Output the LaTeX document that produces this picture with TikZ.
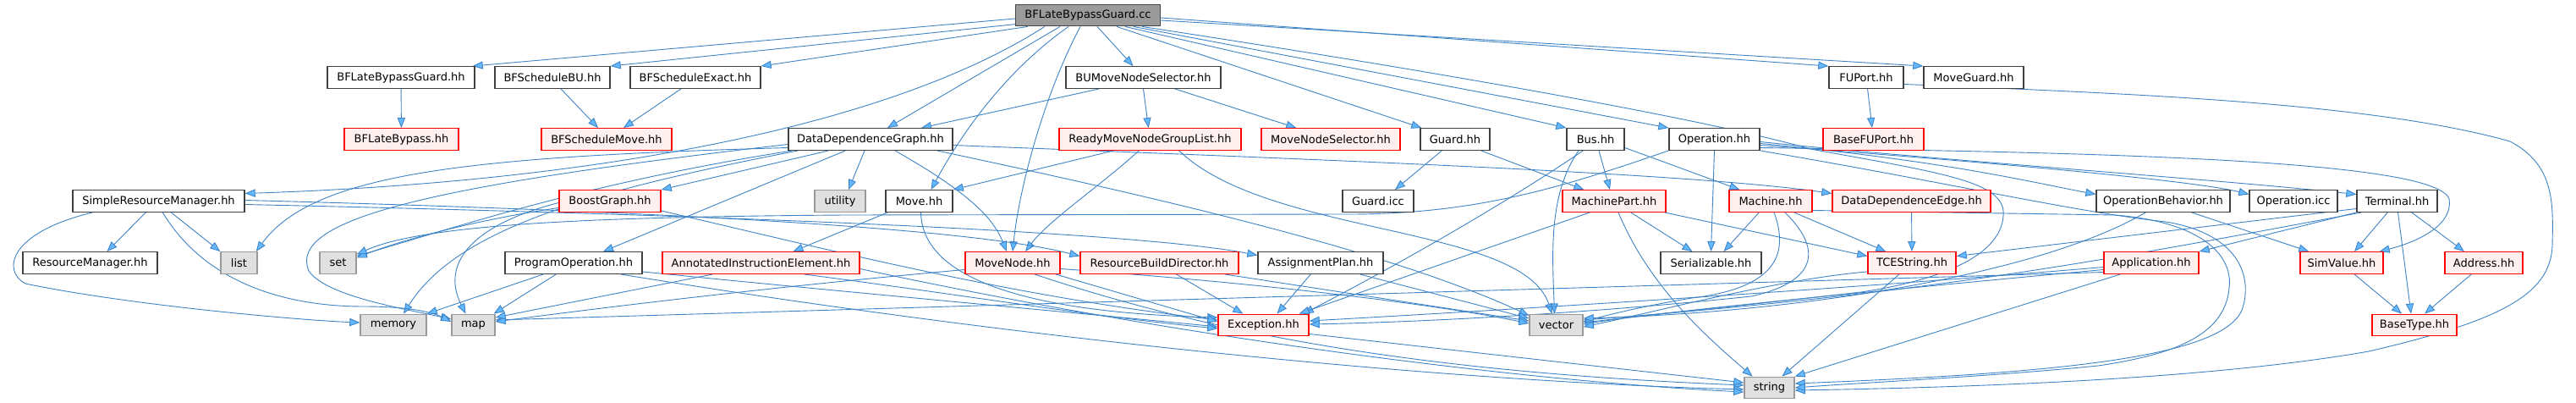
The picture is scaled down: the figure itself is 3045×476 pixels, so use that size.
\documentclass[tikz,border=0pt]{standalone}
\usepackage{fontspec}
\setmainfont{DejaVu Sans}
\usetikzlibrary{arrows.meta,calc}
\pgfdeclarelayer{edgelayer}
\pgfsetlayers{edgelayer,main}
\definecolor{edgec}{RGB}{62,132,198}
\definecolor{arrowc}{RGB}{99,184,255}
\definecolor{boxb}{RGB}{64,64,64}
\definecolor{redf}{RGB}{255,240,240}
\definecolor{grayf}{RGB}{224,224,224}
\definecolor{grayb}{RGB}{153,153,153}
\definecolor{mainf}{RGB}{155,155,155}
\definecolor{mainb}{RGB}{70,70,70}
\tikzset{
 box/.style={draw=boxb, fill=white, line width=0.7pt, minimum height=12.75pt, inner sep=0pt, font=\fontsize{6.5}{8}\selectfont},
 rbox/.style={box, draw=red, fill=redf},
 gbox/.style={box, draw=grayb, fill=grayf},
 mbox/.style={box, draw=mainb, fill=mainf},
 e/.style={draw=edgec, line width=0.45pt, -{Triangle[length=6pt,width=4.6pt,fill=arrowc]}},
}
\begin{document}
\begin{tikzpicture}[x=0.5pt,y=-0.5pt]
\useasboundingbox (0,0) rectangle (3045,476);
% row 0
\node[mbox, minimum width=85.5pt] (cc) at (1286,18) {BFLateBypassGuard.cc};
% row 1
\node[box, minimum width=87pt] (bflgh) at (474,91.5) {BFLateBypassGuard.hh};
\node[box, minimum width=68pt] (bfsbu) at (653,91.5) {BFScheduleBU.hh};
\node[box, minimum width=77pt] (bfsex) at (822,91.5) {BFScheduleExact.hh};
\node[box, minimum width=91.5pt] (bumns) at (1351.5,91.5) {BUMoveNodeSelector.hh};
\node[box, minimum width=44pt] (fuport) at (2206,91.5) {FUPort.hh};
\node[box, minimum width=59pt] (mguard) at (2333,91.5) {MoveGuard.hh};
% row 2
\node[rbox, minimum width=67.5pt] (bflb) at (474.5,164.5) {BFLateBypass.hh};
\node[rbox, minimum width=77pt] (bfsm) at (717,164.5) {BFScheduleMove.hh};
\node[box, minimum width=97pt] (ddg) at (1029,164.5) {DataDependenceGraph.hh};
\node[rbox, minimum width=107.5pt] (rmngl) at (1359.5,164.5) {ReadyMoveNodeGroupList.hh};
\node[rbox, minimum width=82pt] (mns) at (1573,164.5) {MoveNodeSelector.hh};
\node[box, minimum width=41pt] (guard) at (1720,164.5) {Guard.hh};
\node[box, minimum width=34pt] (bus) at (1886,164.5) {Bus.hh};
\node[box, minimum width=53.5pt] (op) at (2026.5,164.5) {Operation.hh};
\node[rbox, minimum width=59.5pt] (bfup) at (2214.5,164.5) {BaseFUPort.hh};
% row 3
\node[box, minimum width=101.5pt] (srm) at (187.5,237.5) {SimpleResourceManager.hh};
\node[rbox, minimum width=60pt] (bg) at (721,237.5) {BoostGraph.hh};
\node[gbox, minimum width=30pt] (util) at (993,237.5) {utility};
\node[box, minimum width=39.5pt] (move) at (1086.5,237.5) {Move.hh};
\node[box, minimum width=42pt] (gicc) at (1629,237.5) {Guard.icc};
\node[rbox, minimum width=61pt] (mp) at (1908,237.5) {MachinePart.hh};
\node[rbox, minimum width=49pt] (mach) at (2093,237.5) {Machine.hh};
\node[rbox, minimum width=93.5pt] (dde) at (2259.5,237.5) {DataDependenceEdge.hh};
\node[box, minimum width=79pt] (opb) at (2557,237.5) {OperationBehavior.hh};
\node[box, minimum width=52pt] (opicc) at (2711,237.5) {Operation.icc};
\node[box, minimum width=47.5pt] (term) at (2833.5,237.5) {Terminal.hh};
% row 4
\node[box, minimum width=79.5pt] (rm) at (106.5,310.5) {ResourceManager.hh};
\node[gbox, minimum width=21.5pt] (list) at (282.5,310.5) {list};
\node[gbox, minimum width=21.5pt] (set) at (399.5,310.5) {set};
\node[box, minimum width=81pt] (po) at (678,310.5) {ProgramOperation.hh};
\node[rbox, minimum width=116.5pt] (aie) at (899.5,310.5) {AnnotatedInstructionElement.hh};
\node[rbox, minimum width=56pt] (mn) at (1197,310.5) {MoveNode.hh};
\node[rbox, minimum width=93.5pt] (rbd) at (1370.5,310.5) {ResourceBuildDirector.hh};
\node[box, minimum width=74pt] (ap) at (1561,310.5) {AssignmentPlan.hh};
\node[box, minimum width=59.5pt] (ser) at (2022.5,310.5) {Serializable.hh};
\node[rbox, minimum width=52pt] (tces) at (2260,310.5) {TCEString.hh};
\node[rbox, minimum width=56pt] (app) at (2543,310.5) {Application.hh};
\node[rbox, minimum width=49pt] (simv) at (2768,310.5) {SimValue.hh};
\node[rbox, minimum width=46pt] (addr) at (2936,310.5) {Address.hh};
% row 5
\node[gbox, minimum width=39pt] (memory) at (465,384) {memory};
\node[gbox, minimum width=25.5pt] (map) at (559.5,384) {map};
\node[rbox, minimum width=53.5pt] (exc) at (1493.5,384) {Exception.hh};
\node[gbox, minimum width=31.5pt] (vector) at (1839.5,384) {vector};
\node[rbox, minimum width=50pt] (btype) at (2854,384) {BaseType.hh};
% row 6
\node[gbox, minimum width=29.5pt] (string) at (2091.5,458) {string};

\begin{pgfonlayer}{edgelayer}
\fill[white] (0,0) rectangle (3045,476);
% from the .cc file
\draw[e] ($(cc.west)+(0,4)$) -- ($(bflgh.north east)+(-3,0)$);
\draw[e] ($(cc.south west)+(2,-3)$) -- (bfsbu.north east);
\draw[e] ($(cc.south west)+(15,0)$) -- (bfsex.north east);
\draw[e] ($(cc.south west)+(35,0)$) .. controls (1050,150) and (700,215) .. ($(srm.east)+(0,-9)$);
\draw[e] ($(cc.south)+(-33,0)$) -- ($(ddg.north)+(20,0)$);
\draw[e] ($(cc.south)+(-23,0)$) .. controls (1180,90) and (1130,170) .. ($(move.north)+(14,0)$);
\draw[e] ($(cc.south)+(-9,0)$) .. controls (1235,110) and (1205,220) .. (mn.north);
\draw[e] ($(cc.south)+(11,0)$) -- ($(bumns.north)+(-12,0)$);
\draw[e] ($(cc.south)+(34,0)$) -- ($(guard.north west)+(2,0)$);
\draw[e] ($(cc.south)+(44,0)$) -- (bus.north west);
\draw[e] ($(cc.south)+(54,0)$) -- (op.north west);
\draw[e] ($(cc.south)+(64,0)$) .. controls (1800,100) and (2050,150) .. (2140,176) .. controls (2300,205) and (2372,215) .. (2368,255) .. controls (2365,300) and (2300,330) .. (2200,345) .. controls (2050,362) and (1950,372) .. ($(vector.east)+(0,-3)$);
\draw[e] ($(cc.east)+(0,3)$) -- (fuport.north west);
\draw[e] ($(cc.east)+(0,6)$) -- (mguard.north west);
% level 1
\draw[e] (bflgh) -- (bflb);
\draw[e] ($(bfsbu.south)+(10,0)$) -- ($(bfsm.north)+(-10,0)$);
\draw[e] ($(bfsex.south)+(-17,0)$) -- ($(bfsm.north)+(20,0)$);
\draw[e] ($(bumns.south west)+(40,0)$) -- ($(ddg.north)+(60,0)$);
\draw[e] (bumns.south) -- ($(rmngl.north)+(-2,0)$);
\draw[e] ($(bumns.south east)+(-55,0)$) -- ($(mns.north west)+(42,0)$);
\draw[e] (fuport) -- (bfup);
% DataDependenceGraph
\draw[e] ($(ddg.west)+(0,10)$) .. controls (550,185) and (370,205) .. ($(list.north east)+(-2,0)$);
\draw[e] ($(ddg.west)+(0,6)$) .. controls (500,220) and (340,260) .. (365,320) .. controls (385,350) and (480,365) .. ($(map.west)+(0,-7)$);
\draw[e] ($(ddg.south west)+(5,0)$) .. controls (700,215) and (550,265) .. ($(set.east)+(0,-8)$);
\draw[e] ($(ddg.south west)+(12,0)$) .. controls (700,225) and (540,270) .. ($(memory.north)+(12,0)$);
\draw[e] ($(ddg.south west)+(48,0)$) -- (bg.north east);
\draw[e] ($(ddg.south)+(-7,0)$) -- ($(util.north)+(10,0)$);
\draw[e] ($(ddg.south west)+(68,0)$) -- ($(po.north)+(35,0)$);
\draw[e] ($(ddg.south)+(29,0)$) .. controls (1150,230) and (1175,260) .. ($(mn.north)+(-7,0)$);
\draw[e] ($(ddg.east)+(0,7)$) .. controls (1600,190) and (2000,205) .. ($(dde.west)+(0,-9)$);
\draw[e] ($(ddg.south east)+(-19,0)$) .. controls (1400,240) and (1650,300) .. ($(vector.north west)+(0,2)$);
% ReadyMoveNodeGroupList
\draw[e] ($(rmngl.south west)+(65,0)$) -- (move.north east);
\draw[e] ($(rmngl.south west)+(95,0)$) .. controls (1300,220) and (1240,260) .. ($(mn.north)+(15,0)$);
\draw[e] ($(rmngl.south east)+(-74,0)$) .. controls (1500,280) and (1800,265) .. ($(vector.north)+(-5,0)$);
% SimpleResourceManager
\draw[e] ($(srm.south west)+(87,0)$) -- ($(rm.north)+(20,0)$);
\draw[e] ($(srm.south west)+(117,0)$) -- (list.north west);
\draw[e] ($(srm.south west)+(24,0)$) .. controls (10,275) and (2,320) .. (30,335) .. controls (150,360) and (350,378) .. ($(memory.west)+(0,-3)$);
\draw[e] ($(srm.south west)+(107,0)$) .. controls (240,330) and (330,362) .. (430,362) .. controls (480,362) and (510,368) .. ($(map.west)+(0,-4)$);
\draw[e] ($(srm.east)+(0,-1)$) .. controls (800,250) and (1150,270) .. ($(rbd.west)+(0,-8)$);
\draw[e] ($(srm.east)+(0,4)$) .. controls (900,255) and (1350,275) .. ($(ap.west)+(0,-9)$);
% BoostGraph
\draw[e] ($(bg.west)+(0,8)$) .. controls (560,260) and (470,285) .. ($(set.east)+(0,-6)$);
\draw[e] ($(bg.west)+(0,2)$) .. controls (560,265) and (520,310) .. ($(map.north)+(-9,0)$);
\draw[e] ($(bg.south east)+(0,-2)$) .. controls (1000,300) and (1200,350) .. ($(exc.west)+(0,-6)$);
% Move
\draw[e] ($(move.south west)+(3,0)$) -- ($(aie.north)+(38,0)$);
\draw[e] ($(move.south)+(2,0)$) .. controls (1090,340) and (1250,370) .. ($(exc.west)+(0,-9)$);
% Operation -> set (long route)
\draw[e] (op.south west) .. controls (1850,220) and (1750,252) .. (1600,253) -- (1000,254) .. controls (700,256) and (500,265) .. ($(set.east)+(0,-10)$);
% Guard
\draw[e] ($(guard.south west)+(26,0)$) -- ($(gicc.north)+(20,0)$);
\draw[e] ($(guard.south east)+(-11,0)$) -- ($(mp.north west)+(26,0)$);
% Bus
\draw[e] ($(bus.south)+(4,0)$) -- ($(mp.north)+(-5,0)$);
\draw[e] ($(bus.south west)+(20,0)$) .. controls (1750,260) and (1600,340) .. ($(exc.north east)+(-7,0)$);
\draw[e] ($(bus.south)+(-20,0)$) .. controls (1830,230) and (1835,300) .. ($(vector.north)+(-2,0)$);
\draw[e] ($(bus.east)+(0,10)$) -- ($(mach.north west)+(13,0)$);
% Operation
\draw[e] (op.south) -- (ser.north);
\draw[e] ($(op.east)+(0,3)$) .. controls (2300,190) and (2600,210) .. ($(term.west)+(0,-8)$);
\draw[e] ($(op.east)+(0,5)$) .. controls (2300,190) and (2400,215) .. ($(opb.west)+(0,-8)$);
\draw[e] ($(op.east)+(0,7)$) .. controls (2400,195) and (2600,215) .. ($(opicc.west)+(0,-8)$);
\draw[e] ($(op.east)+(0,10)$) .. controls (2500,180) and (2880,190) .. (2895,235) .. controls (2900,265) and (2860,285) .. ($(simv.north east)+(-5,0)$);
\draw[e] (op.south east) .. controls (2300,215) and (2450,250) .. (2560,262) .. controls (2640,275) and (2662,320) .. (2652,360) .. controls (2640,420) and (2450,440) .. ($(string.east)+(0,-5)$);
% FUPort loop
\draw[e] ($(fuport.east)+(0,8)$) .. controls (2500,110) and (2800,120) .. (2967,167) .. controls (3020,195) and (3018,240) .. (3017,290) .. controls (3015,350) and (2950,380) .. (2800,415) .. controls (2600,450) and (2300,458) .. ($(string.east)+(0,3)$);
% Terminal
\draw[e] ($(term.south west)+(37,0)$) -- ($(simv.north)+(15,0)$);
\draw[e] ($(term.south)+(1,0)$) -- ($(btype.north)+(-4,0)$);
\draw[e] ($(term.south east)+(-31,0)$) -- ($(addr.north)+(-23,0)$);
\draw[e] (term.south west) -- (app.north east);
\draw[e] ($(term.west)+(0,9)$) -- ($(tces.east)+(0,-8)$);
\draw[e] ($(term.south west)+(6,0)$) .. controls (2500,305) and (2300,345) .. ($(vector.east)+(0,-6)$);
% Application
\draw[e] ($(app.south west)+(20,0)$) -- (string.north east);
\draw[e] ($(app.west)+(0,5)$) .. controls (2200,340) and (1800,365) .. ($(exc.east)+(0,-5)$);
\draw[e] ($(app.west)+(0,8)$) .. controls (2200,345) and (1950,370) .. ($(vector.east)+(0,-1)$);
\draw[e] ($(app.west)+(0,11)$) -- ($(map.east)+(0,-6)$);
% TCEString, DataDependenceEdge
\draw[e] ($(tces.south)+(-15,0)$) -- ($(string.north)+(15,0)$);
\draw[e] ($(tces.south west)+(0,-3)$) .. controls (2100,330) and (1950,370) .. ($(vector.east)+(0,2)$);
\draw[e] (dde) -- (tces);
% MachinePart
\draw[e] ($(mp.south west)+(33,0)$) -- ($(exc.north east)+(-12,0)$);
\draw[e] ($(mp.south)+(5,0)$) .. controls (1950,340) and (2020,400) .. ($(string.north)+(-20,0)$);
\draw[e] ($(mp.south east)+(-2,0)$) -- ($(tces.west)+(0,-8)$);
\draw[e] ($(mp.south east)+(-42,0)$) -- ($(ser.north)+(-22,0)$);
% Machine
\draw[e] ($(mach.south west)+(36,0)$) -- ($(ser.north)+(15,0)$);
\draw[e] ($(mach.south east)+(-22,0)$) -- ($(tces.north west)+(22,0)$);
\draw[e] ($(mach.south)+(4,0)$) .. controls (2115,300) and (2100,340) .. (2000,352) .. controls (1950,360) and (1900,372) .. ($(vector.east)+(0,-4)$);
\draw[e] ($(mach.south)+(17,0)$) .. controls (2160,300) and (2140,335) .. (2070,350) .. controls (1900,368) and (1700,380) .. ($(exc.east)+(0,-1)$);
\draw[e] ($(mach.east)+(0,11)$) -- (2500,254) .. controls (2600,262) and (2640,300) .. (2635,340) .. controls (2630,400) and (2560,420) .. (2480,432) .. controls (2350,445) and (2200,452) .. (string.east);
% OperationBehavior
\draw[e] ($(opb.south east)+(-46,0)$) -- ($(simv.north west)+(11,0)$);
\draw[e] ($(opb.south west)+(59,0)$) .. controls (2400,330) and (2100,370) .. ($(vector.east)+(0,-8)$);
% AssignmentPlan, ResourceBuildDirector
\draw[e] ($(ap.south west)+(63,0)$) -- ($(exc.north)+(16,0)$);
\draw[e] ($(ap.south east)+(-28,0)$) -- ($(vector.west)+(0,-8)$);
\draw[e] ($(rbd.south)+(20,0)$) -- ($(exc.north west)+(30,0)$);
\draw[e] ($(rbd.south east)+(-17,0)$) -- ($(vector.west)+(0,-5)$);
% MoveNode
\draw[e] ($(mn.south east)+(-6,0)$) -- ($(exc.west)+(0,-4)$);
\draw[e] ($(mn.south)+(26,0)$) .. controls (1450,400) and (1700,440) .. ($(string.west)+(0,-3)$);
\draw[e] ($(mn.east)+(0,7)$) .. controls (1500,335) and (1700,360) .. ($(vector.west)+(0,-2)$);
\draw[e] ($(mn.west)+(0,8)$) .. controls (900,340) and (700,365) .. ($(map.east)+(0,-4)$);
% ProgramOperation
\draw[e] ($(po.south west)+(46,0)$) -- (memory.north east);
\draw[e] ($(po.south west)+(61,0)$) -- ($(map.north east)+(-2,0)$);
\draw[e] ($(po.south east)+(0,-3)$) .. controls (1000,345) and (1300,372) .. ($(exc.west)+(0,2)$);
\draw[e] ($(po.south east)+(-26,0)$) .. controls (1200,400) and (1700,450) .. ($(string.west)+(0,2)$);
% AnnotatedInstructionElement
\draw[e] ($(aie.south west)+(60,0)$) -- ($(map.east)+(0,-9)$);
\draw[e] ($(aie.south east)+(-66,0)$) .. controls (1150,350) and (1300,375) .. ($(exc.west)+(0,4)$);
\draw[e] ($(aie.east)+(0,7)$) .. controls (1400,400) and (1800,450) .. ($(string.west)+(0,5)$);
% Exception, SimValue, Address
\draw[e] ($(exc.south east)+(0,-3)$) -- ($(string.west)+(0,-6)$);
\draw[e] ($(simv.south)+(15,0)$) -- ($(btype.north)+(-15,0)$);
\draw[e] ($(addr.south west)+(32,0)$) -- ($(btype.north)+(12,0)$);
\end{pgfonlayer}
\end{tikzpicture}
\end{document}
